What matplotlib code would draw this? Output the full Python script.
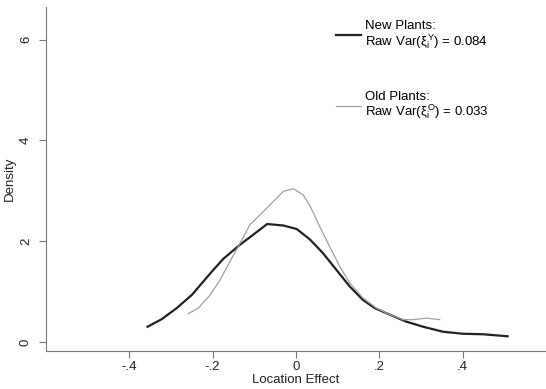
import matplotlib
matplotlib.use("Agg")
import matplotlib.pyplot as plt

plt.rcParams['font.family'] = ['Liberation Sans', 'DejaVu Sans']
plt.rcParams['mathtext.fontset'] = 'custom'
plt.rcParams['mathtext.rm'] = 'Liberation Sans'
plt.rcParams['mathtext.it'] = 'Liberation Sans'

# kernel density of location effects
new_x = [-0.356, -0.322, -0.286, -0.250, -0.222, -0.198, -0.174, -0.134, -0.102, -0.069,
         -0.030, 0.002, 0.034, 0.065, 0.097, 0.129, 0.161, 0.189, 0.225, 0.265,
         0.305, 0.353, 0.401, 0.449, 0.508]
new_y = [0.30, 0.45, 0.67, 0.93, 1.20, 1.43, 1.65, 1.93, 2.13, 2.34,
         2.31, 2.24, 2.03, 1.76, 1.43, 1.10, 0.83, 0.67, 0.54, 0.40,
         0.30, 0.20, 0.16, 0.15, 0.11]

old_x = [-0.258, -0.234, -0.206, -0.182, -0.158, -0.134, -0.110, -0.078, -0.054, -0.030,
         -0.006, 0.017, 0.034, 0.057, 0.081, 0.105, 0.129, 0.161, 0.193, 0.225,
         0.257, 0.281, 0.313, 0.345]
old_y = [0.56, 0.67, 0.93, 1.23, 1.60, 1.96, 2.33, 2.59, 2.79, 2.99,
         3.04, 2.92, 2.70, 2.29, 1.89, 1.50, 1.17, 0.87, 0.67, 0.54,
         0.44, 0.44, 0.47, 0.44]

x_ticks = [-0.4, -0.2, 0, 0.2, 0.4]
x_ticklabels = ['-.4', '-.2', '0', '.2', '.4']
y_ticks = [0, 2, 4, 6]

new_label = 'New Plants:\nRaw Var($\\xi_i^{Y}$) = 0.084'
old_label = 'Old Plants:\nRaw Var($\\xi_i^{O}$) = 0.033'

fig = plt.figure(figsize=(5.46, 3.89), dpi=100)
ax = fig.add_axes([0.084, 0.098, 0.916, 0.884])

ax.plot(new_x, new_y, color='#222222', lw=1.6, label=new_label)
ax.plot(old_x, old_y, color='#a0a0a0', lw=0.9, label=old_label)

ax.set_xlim(-0.6, 0.6)
ax.set_ylim(-0.18, 6.65)
ax.set_xticks(x_ticks)
ax.set_xticklabels(x_ticklabels)
ax.set_yticks(y_ticks)
for lab in ax.get_yticklabels():
    lab.set_rotation(90)
    lab.set_va('center')

for s in ['top', 'right']:
    ax.spines[s].set_visible(False)
for s in ['left', 'bottom']:
    ax.spines[s].set_color('#777777')
    ax.spines[s].set_linewidth(0.8)
ax.tick_params(colors='#777777', labelcolor='#222222', labelsize=9.5, length=5, width=0.8)
ax.tick_params(axis='y', pad=5)
ax.tick_params(axis='x', pad=2)

ax.set_xlabel('Location Effect', fontsize=9.5, color='#222222', labelpad=1)
ax.set_ylabel('Density', fontsize=9.5, color='#222222', labelpad=3)

leg = ax.legend(loc='upper left', bbox_to_anchor=(0.569, 0.978), frameon=False, fontsize=9.5,
                handlelength=1.95, handletextpad=0.3, labelspacing=3.05, borderaxespad=0)
for t in leg.get_texts():
    t.set_linespacing(1.0)

fig.savefig('out.png', dpi=100)
